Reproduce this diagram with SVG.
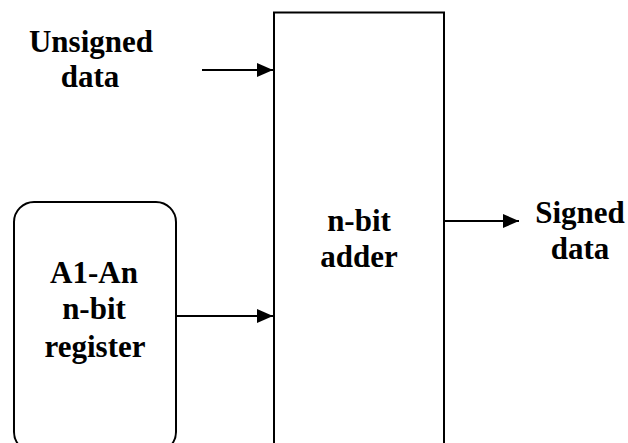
<svg xmlns="http://www.w3.org/2000/svg" width="628" height="443" viewBox="0 0 628 443">
<style>
.t{font-family:"Liberation Serif","Times New Roman",serif;font-weight:bold;font-size:31px;fill:#000;text-anchor:middle}
.box{fill:#fff;stroke:#000;stroke-width:2}
.ln{stroke:#000;stroke-width:2;fill:none}
</style>
<defs>
<marker id="ah" markerWidth="16" markerHeight="14" refX="16" refY="7" orient="auto" markerUnits="userSpaceOnUse">
<path d="M0,0 L16,7 L0,14 Z" fill="#000"/>
</marker>
</defs>
<rect width="628" height="443" fill="#fff"/>
<g id="adder">
<rect class="box" x="274" y="12.5" width="170" height="450"/>
<text class="t" x="359" y="231">n-bit</text>
<text class="t" x="359" y="267">adder</text>
</g>
<g id="register">
<rect class="box" x="14" y="202" width="162" height="250" rx="20" ry="20"/>
<text class="t" x="94" y="283">A1-An</text>
<text class="t" x="94" y="319">n-bit</text>
<text class="t" x="95" y="357">register</text>
</g>
<g id="unsigned">
<text class="t" x="91" y="52">Unsigned</text>
<text class="t" x="90" y="87">data</text>
</g>
<g id="signed">
<text class="t" x="580" y="223">Signed</text>
<text class="t" x="580" y="259">data</text>
</g>
<g id="connectors">
<line class="ln" x1="202" y1="70" x2="273" y2="70" marker-end="url(#ah)"/>
<line class="ln" x1="176" y1="316" x2="273" y2="316" marker-end="url(#ah)"/>
<line class="ln" x1="444" y1="221" x2="519" y2="221" marker-end="url(#ah)"/>
</g>
</svg>
